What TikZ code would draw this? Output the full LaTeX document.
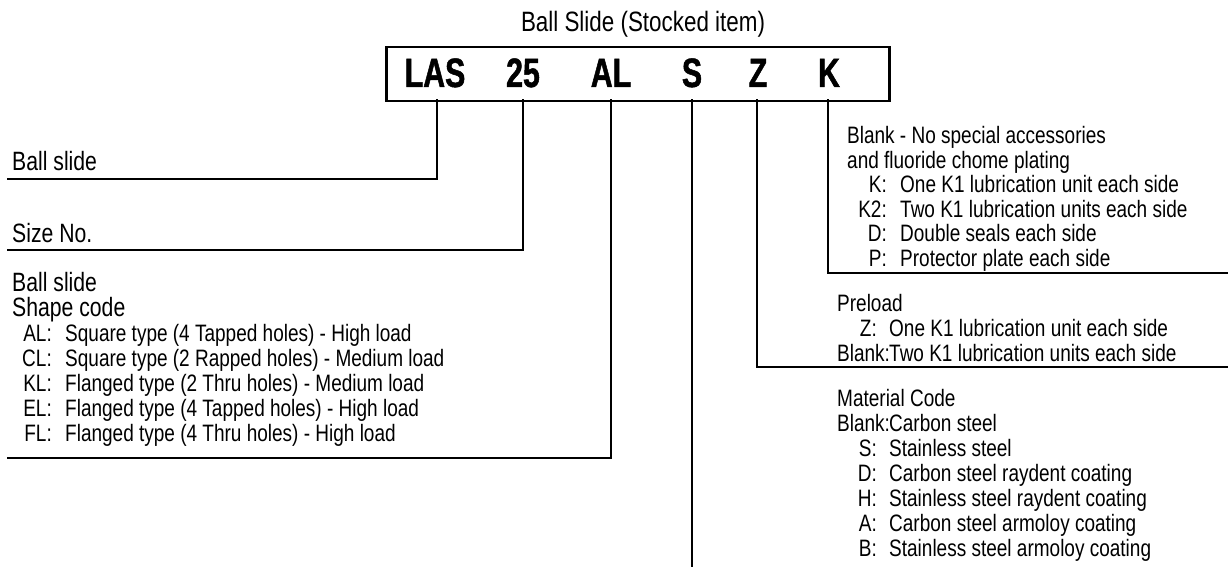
\documentclass[tikz,border=0pt]{standalone}
\usepackage{fontspec}
\setmainfont{Liberation Sans}[FakeStretch=0.8]
\newfontfamily\codefont{Liberation Sans Bold}[FakeStretch=0.74,FakeBold=1.2]
\begin{document}
\begin{tikzpicture}[x=1pt,y=-1pt,
  txt/.style={inner sep=0pt, anchor=base west, font=\fontsize{23.75}{25}\selectfont},
  hdr/.style={inner sep=0pt, anchor=base west, font=\fontsize{26.5}{28}\selectfont},
  cde/.style={inner sep=0pt, anchor=base east, font=\fontsize{23.75}{25}\selectfont},
  ttl/.style={inner sep=0pt, anchor=base, font=\fontsize{28}{30}\selectfont},
  big/.style={inner sep=0pt, anchor=base, font=\codefont\fontsize{41}{41}\selectfont},
  lead/.style={line width=2pt, line cap=rect},
  boxst/.style={draw, line width=2.5pt, inner sep=0pt, anchor=north west, minimum width=503pt, minimum height=54pt}]
\useasboundingbox (0,0) rectangle (1228,567);

% title and code box
\node[ttl] (title) at (643,32) {Ball Slide (Stocked item)};
\node[boxst] (box) at (385,46) {};
\node[big] (las) at (435,87) {LAS};
\node[big] (n25) at (523,87) {25};
\node[big] (al)  at (611,87) {AL};
\node[big] (s)   at (692,87) {S};
\node[big] (z)   at (758,87) {Z};
\node[big] (k)   at (829,87) {K};

% connector anchor points
\coordinate (b1) at (437,100);
\coordinate (b2) at (523,100);
\coordinate (b3) at (611,100);
\coordinate (b4) at (692,100);
\coordinate (b5) at (757,100);
\coordinate (b6) at (828,100);
\coordinate (e1) at (8,179);
\coordinate (e2) at (8,250);
\coordinate (e3) at (8,458);
\coordinate (e4) at (692,567);
\coordinate (e5) at (1230,367);
\coordinate (e6) at (1230,273);

\draw[lead] (b1) |- (e1);
\draw[lead] (b2) |- (e2);
\draw[lead] (b3) |- (e3);
\draw[lead] (b4) -- (e4);
\draw[lead] (b5) |- (e5);
\draw[lead] (b6) |- (e6);

% left labels
\node[hdr] (lab1) at (12,170.5) {Ball slide};
\node[hdr] (lab2) at (12,242.5) {Size No.};
\node[hdr] (lab3a) at (12,291) {Ball slide};
\node[hdr] (lab3b) at (12,316) {Shape code};
\node[cde] (alc) at (52,341) {AL:}; \node[txt] (ald) at (65,341) {Square type (4 Tapped holes) - High load};
\node[cde] (clc) at (52,366) {CL:}; \node[txt] (cld) at (65,366) {Square type (2 Rapped holes) - Medium load};
\node[cde] (klc) at (52,391) {KL:}; \node[txt] (kld) at (65,391) {Flanged type (2 Thru holes) - Medium load};
\node[cde] (elc) at (52,416) {EL:}; \node[txt] (eld) at (65,416) {Flanged type (4 Tapped holes) - High load};
\node[cde] (flc) at (52,441) {FL:}; \node[txt] (fld) at (65,441) {Flanged type (4 Thru holes) - High load};

% right: accessories
\node[txt] (ka) at (847,143.5) {Blank - No special accessories};
\node[txt] (kb) at (847,168) {and fluoride chome plating};
\node[cde] (kkc) at (887,192.5) {K:};  \node[txt] (kkd) at (900,192.5) {One K1 lubrication unit each side};
\node[cde] (k2c) at (887,217) {K2:};   \node[txt] (k2d) at (900,217) {Two K1 lubrication units each side};
\node[cde] (kdc) at (887,241.5) {D:};  \node[txt] (kdd) at (900,241.5) {Double seals each side};
\node[cde] (kpc) at (887,266) {P:};    \node[txt] (kpd) at (900,266) {Protector plate each side};

% right: preload
\node[txt] (pa) at (837,311.5) {Preload};
\node[cde] (pzc) at (877,336.5) {Z:}; \node[txt] (pzd) at (889,336.5) {One K1 lubrication unit each side};
\node[txt] (pbc) at (837,361) {Blank:}; \node[txt] (pbd) at (889,361) {Two K1 lubrication units each side};

% right: material
\node[txt] (ma) at (837,406.5) {Material Code};
\node[txt] (mbc) at (837,431.5) {Blank:}; \node[txt] (mbd) at (889,431.5) {Carbon steel};
\node[cde] (msc) at (877,456.5) {S:}; \node[txt] (msd) at (889,456.5) {Stainless steel};
\node[cde] (mdc) at (877,481.5) {D:}; \node[txt] (mdd) at (889,481.5) {Carbon steel raydent coating};
\node[cde] (mhc) at (877,506.5) {H:}; \node[txt] (mhd) at (889,506.5) {Stainless steel raydent coating};
\node[cde] (mac) at (877,531.5) {A:}; \node[txt] (mad) at (889,531.5) {Carbon steel armoloy coating};
\node[cde] (mbbc) at (877,556.5) {B:}; \node[txt] (mbbd) at (889,556.5) {Stainless steel armoloy coating};
\end{tikzpicture}
\end{document}
